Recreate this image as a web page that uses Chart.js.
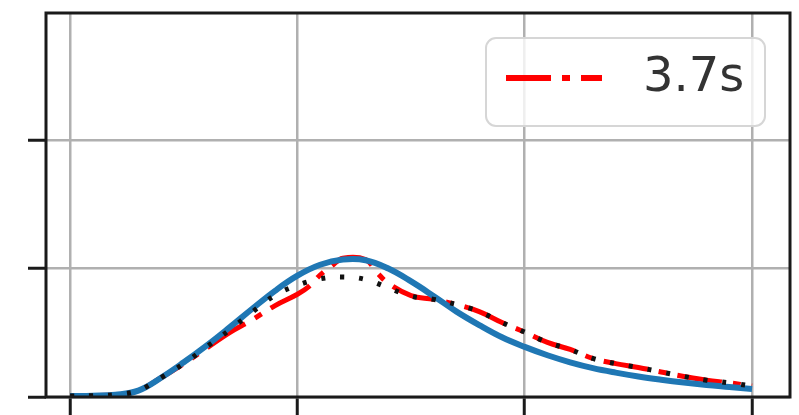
<!DOCTYPE html>
<html>
<head>
<meta charset="utf-8">
<script src="https://cdn.jsdelivr.net/npm/chart.js@4.4.1/dist/chart.umd.min.js"></script>
<style>
  html, body { margin: 0; padding: 0; background: #fff; }
  #wrap { width: 799px; height: 415px; }
</style>
</head>
<body>
<div id="wrap"><canvas id="pdfChart" width="799" height="415"></canvas></div>
<script>
// Sample positions (shared by the blue and black curves)
const xs = [0, 0.1, 0.2, 0.3, 0.4, 0.5, 0.6, 0.7, 0.8, 0.9, 1.0, 1.1, 1.2, 1.3, 1.4, 1.5,
  1.6, 1.7, 1.8, 1.9, 2.0, 2.1, 2.2, 2.3, 2.4, 2.5, 2.6, 2.7, 2.8, 2.9, 3.0];

// Solid blue curve
const blueVals = [0.008, 0.01, 0.018, 0.05, 0.15, 0.27, 0.40, 0.54, 0.685, 0.825, 0.945, 1.03, 1.07, 1.065, 1.0, 0.9,
  0.785, 0.665, 0.56, 0.465, 0.39, 0.325, 0.27, 0.225, 0.19, 0.16, 0.135, 0.113, 0.094, 0.078, 0.062];

// Black dotted curve
const blackVals = [0.008, 0.01, 0.018, 0.05, 0.15, 0.26, 0.39, 0.52, 0.66, 0.79, 0.87, 0.92, 0.935, 0.915, 0.85, 0.785,
  0.76, 0.72, 0.665, 0.58, 0.505, 0.425, 0.37, 0.30, 0.26, 0.23, 0.195, 0.16, 0.13, 0.11, 0.086];

// Red dash-dot curve ("3.7s"), sampled more finely around its kink
const redX = [0, 0.1, 0.2, 0.3, 0.4, 0.5, 0.6, 0.7, 0.8, 0.9, 1.0, 1.05, 1.1, 1.15, 1.2, 1.3, 1.35, 1.4, 1.5,
  1.6, 1.7, 1.8, 1.9, 2.0, 2.1, 2.2, 2.3, 2.4, 2.5, 2.6, 2.7, 2.8, 2.9, 3.0];
const redVals = [0.008, 0.01, 0.018, 0.05, 0.15, 0.26, 0.38, 0.50, 0.60, 0.71, 0.80, 0.86, 0.95, 1.02, 1.08, 1.07, 0.97, 0.885, 0.79,
  0.76, 0.72, 0.665, 0.58, 0.505, 0.425, 0.37, 0.30, 0.26, 0.23, 0.195, 0.16, 0.13, 0.11, 0.086];

const legendLabel = '3.7s';
const xTicks = [0, 1, 2, 3];
const yTicks = [0, 1, 2];

const toPoints = (x, y) => x.map((v, i) => ({ x: v, y: y[i] }));

// Full black frame around the plot area (matplotlib spines)
const frame = {
  id: 'frame',
  afterDatasetsDraw(chart) {
    const { ctx, chartArea: a } = chart;
    ctx.save();
    ctx.strokeStyle = '#1a1a1a';
    ctx.lineWidth = 3;
    ctx.strokeRect(a.left, a.top, a.right - a.left, a.bottom - a.top);
    ctx.restore();
  }
};

// Legend box in the upper right, only the red entry
const legendBox = {
  id: 'legendBox',
  afterDraw(chart) {
    const { ctx, chartArea: a } = chart;
    const w = 279, h = 88;
    const bx = a.right - 25 - w, by = a.top + 25;
    ctx.save();
    ctx.beginPath();
    ctx.roundRect(bx, by, w, h, 10);
    ctx.fillStyle = 'rgba(255,255,255,0.8)';
    ctx.fill();
    ctx.strokeStyle = '#d6d6d6';
    ctx.lineWidth = 2;
    ctx.stroke();
    const ly = by + 40;
    ctx.strokeStyle = '#ff0000';
    ctx.lineWidth = 6;
    ctx.setLineDash([45, 11, 8, 11]);
    ctx.beginPath();
    ctx.moveTo(bx + 20, ly);
    ctx.lineTo(bx + 116, ly);
    ctx.stroke();
    ctx.setLineDash([]);
    ctx.fillStyle = '#333';
    ctx.font = '48px "DejaVu Sans"';
    ctx.textBaseline = 'middle';
    ctx.fillText(legendLabel, bx + 157, ly + 1);
    ctx.restore();
  }
};

const ctx = document.getElementById('pdfChart');
new Chart(ctx, {
  type: 'line',
  data: {
    datasets: [
      {
        label: 'dotted',
        data: toPoints(xs, blackVals),
        borderColor: '#111',
        borderWidth: 5,
        borderDash: [4, 15],
        pointRadius: 0,
        tension: 0.4,
        order: 1
      },
      {
        label: 'solid',
        data: toPoints(xs, blueVals),
        borderColor: '#1f77b4',
        borderWidth: 6,
        pointRadius: 0,
        tension: 0.4,
        order: 2
      },
      {
        label: legendLabel,
        data: toPoints(redX, redVals),
        borderColor: '#ff0000',
        borderWidth: 5,
        borderDash: [45, 11, 8, 11],
        pointRadius: 0,
        tension: 0.4,
        order: 3
      }
    ]
  },
  options: {
    responsive: false,
    animation: false,
    layout: { padding: { top: 13, right: 9, left: 0, bottom: 0 } },
    scales: {
      x: {
        type: 'linear',
        min: -0.106,
        max: 3.167,
        afterBuildTicks: s => { s.ticks = xTicks.map(v => ({ value: v })); },
        afterFit: s => { s.height = 18; },
        ticks: { display: false },
        grid: { color: '#b0b0b0', lineWidth: 2.5, tickLength: 18, tickColor: '#1a1a1a', tickWidth: 3 },
        border: { display: false }
      },
      y: {
        type: 'linear',
        min: 0,
        max: 2.99,
        afterBuildTicks: s => { s.ticks = yTicks.map(v => ({ value: v })); },
        afterFit: s => { s.width = 46; },
        ticks: { display: false },
        grid: { color: '#b0b0b0', lineWidth: 2.5, tickLength: 18, tickColor: '#1a1a1a', tickWidth: 3 },
        border: { display: false }
      }
    },
    plugins: {
      legend: { display: false },
      tooltip: { enabled: false }
    }
  },
  plugins: [frame, legendBox]
});
</script>
</body>
</html>
